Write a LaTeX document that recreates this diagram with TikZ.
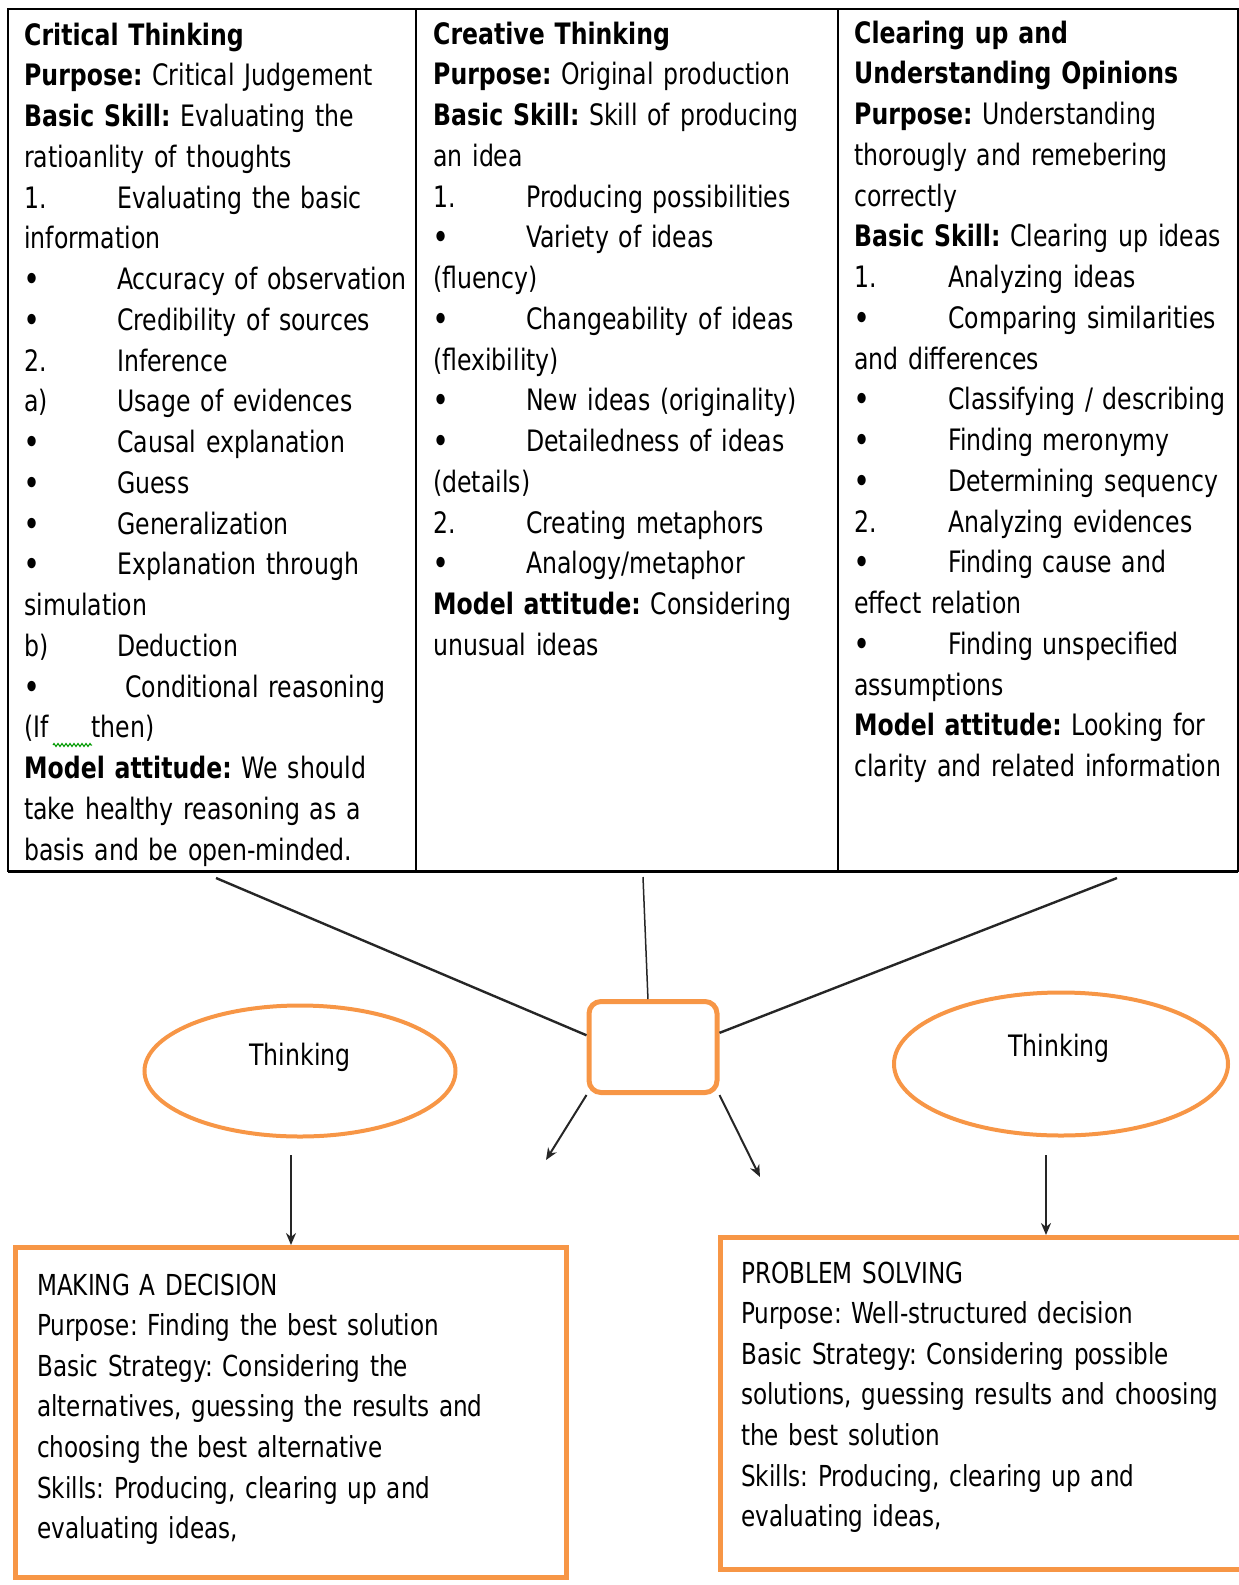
\documentclass[tikz,border=0pt]{standalone}
\usepackage{fontspec}
\setmainfont{DejaVu Sans}[FakeStretch=0.8]
\usetikzlibrary{shapes.geometric,arrows.meta,decorations.pathmorphing}
\definecolor{accent}{RGB}{247,150,70}
\newcommand{\tb}[1]{\makebox[93pt][l]{#1}}
\newcommand{\tbw}[1]{\makebox[94pt][l]{#1}}
\newcommand{\bul}{\textbf{•}}
\frenchspacing

\begin{document}
\begin{tikzpicture}[
x=1pt,y=-1pt,
col/.style={anchor=base west,inner sep=0pt,text width=400pt,align=left,
  font=\fontsize{29.5}{40.75}\selectfont},
cardtext/.style={anchor=base west,inner sep=0pt,text width=520pt,align=left,
  font=\fontsize{28.9}{40.6}\selectfont},
ring/.style={ellipse,draw=accent,line width=4pt},
hubbox/.style={rectangle,rounded corners=12pt,draw=accent,line width=5pt,
  minimum width=128pt,minimum height=91pt},
card/.style={rectangle,draw=accent,line width=5pt},
link/.style={line width=2.4pt,draw=black!85},
arr/.style={line width=2pt,draw=black!85,-{Stealth[length=12pt,width=10pt]}}
]
\useasboundingbox (0,0) rectangle (1239,1585);

% table
\draw[line width=2pt] (8,9) rectangle (1238,871);
\draw[line width=2pt] (416,9) -- (416,871);
\draw[line width=2pt] (838,9) -- (838,871);
\draw[line width=3pt] (8,871) -- (1238,871);

\node[col] (crit) at (24,45) {\textbf{Critical Thinking}\\
\textbf{Purpose:} Critical Judgement\\
\textbf{Basic Skill:} Evaluating the\\
ratioanlity of thoughts\\
\tb{1.}Evaluating the basic\\
information\\
\tb{\bul}Accuracy of observation\\
\tb{\bul}Credibility of sources\\
\tb{2.}Inference\\
\tb{a)}Usage of evidences\\
\tb{\bul}Causal explanation\\
\tb{\bul}Guess\\
\tb{\bul}Generalization\\
\tb{\bul}Explanation through\\
simulation\\
\tb{b)}Deduction\\
\makebox[101pt][l]{\bul}Conditional reasoning\\
(If\hspace{43pt}then)\\
\textbf{Model attitude:} We should\\
take healthy reasoning as a\\
basis and be open-minded.};
\draw[green!60!black,line width=1pt,decorate,
  decoration={zigzag,segment length=4pt,amplitude=1.5pt}] (53,745) -- (92,745);

\node[col] (creat) at (433,44) {\textbf{Creative Thinking}\\
\textbf{Purpose:} Original production\\
\textbf{Basic Skill:} Skill of producing\\
an idea\\
\tb{1.}Producing possibilities\\
\tb{\bul}Variety of ideas\\
(fluency)\\
\tb{\bul}Changeability of ideas\\
(flexibility)\\
\tb{\bul}New ideas (originality)\\
\tb{\bul}Detailedness of ideas\\
(details)\\
\tb{2.}Creating metaphors\\
\tb{\bul}Analogy/metaphor\\
\textbf{Model attitude:} Considering\\
unusual ideas};

\node[col] (clear) at (854,43) {\textbf{Clearing up and}\\
\textbf{Understanding Opinions}\\
\textbf{Purpose:} Understanding\\
thorougly and remebering\\
correctly\\
\textbf{Basic Skill:} Clearing up ideas\\
\tbw{1.}Analyzing ideas\\
\tbw{\bul}Comparing similarities\\
and differences\\
\tbw{\bul}Classifying / describing\\
\tbw{\bul}Finding meronymy\\
\tbw{\bul}Determining sequency\\
\tbw{2.}Analyzing evidences\\
\tbw{\bul}Finding cause and\\
effect relation\\
\tbw{\bul}Finding unspecified\\
assumptions\\
\textbf{Model attitude:} Looking for\\
clarity and related information};

% middle part
\node[hubbox] (hub) at (653,1047) {};
\node[ring,minimum width=311pt,minimum height=131pt] (thinkL) at (300,1071) {};
\node[col,anchor=base,text width=] (thinkLlab) at (300,1065) {Thinking};
\node[ring,minimum width=334pt,minimum height=143pt] (thinkR) at (1061,1064) {};
\node[col,anchor=base,text width=] (thinkRlab) at (1059,1056) {Thinking};

\coordinate (critfoot) at (216,878);
\coordinate (creatfoot) at (643,877);
\coordinate (clearfoot) at (1117,878);
\draw[link] (critfoot) -- (hub.170);
\draw[link,line width=1.5pt] (creatfoot) -- (hub.96);
\draw[link] (clearfoot) -- (hub.12);

\coordinate (leftdrop) at (546,1160);
\coordinate (rightdrop) at (760,1177);
\draw[arr] (hub.south west) -- (leftdrop);
\draw[arr] (hub.south east) -- (rightdrop);

% bottom cards
\node[card,minimum width=551pt,minimum height=330pt] (dec) at (291,1412.5) {};
\node[card,minimum width=651pt,minimum height=332pt] (ps) at (1046,1403.5) {};

\coordinate (thinkLfoot) at (291,1155);
\coordinate (thinkRfoot) at (1046,1155);
\draw[arr] (thinkLfoot) -- (dec.north);
\draw[arr] (thinkRfoot) -- (ps.north);

\node[cardtext] (dectext) at (37,1295) {MAKING A DECISION\\
Purpose: Finding the best solution\\
Basic Strategy: Considering the\\
alternatives, guessing the results and\\
choosing the best alternative\\
Skills: Producing, clearing up and\\
evaluating ideas,};

\node[cardtext] (pstext) at (741,1283) {PROBLEM SOLVING\\
Purpose: Well-structured decision\\
Basic Strategy: Considering possible\\
solutions, guessing results and choosing\\
the best solution\\
Skills: Producing, clearing up and\\
evaluating ideas,};

\end{tikzpicture}
\end{document}
